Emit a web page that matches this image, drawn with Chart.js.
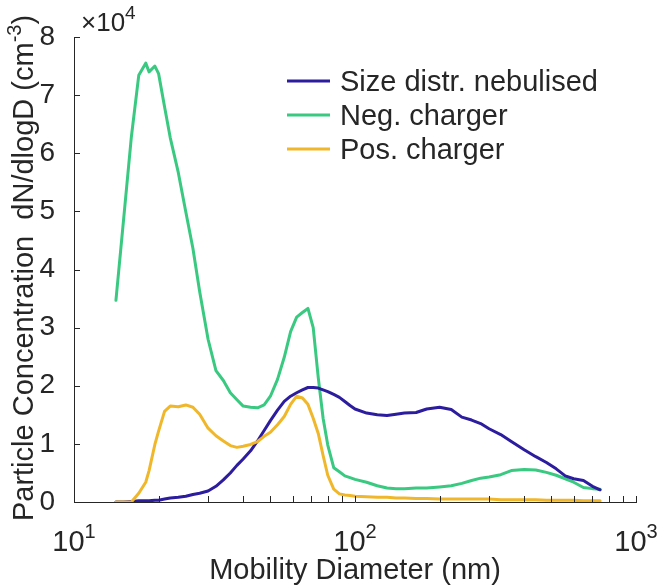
<!DOCTYPE html>
<html>
<head>
<meta charset="utf-8">
<script src="https://cdn.jsdelivr.net/npm/chart.js@4.4.1/dist/chart.umd.min.js"></script>
<style>
    html, body { margin: 0; padding: 0; background: #ffffff; }
    #wrap { width: 657px; height: 588px; position: relative; }
</style>
</head>
<body>
<div id="wrap"><canvas id="graph_canva"></canvas></div>
<script>

// Mobility diameter (nm), same scan bins for all three curves
var diameters = [
    14.1, 15, 16, 17, 18, 18.5, 19.4, 20, 21, 22,
    23.5, 25, 26.5, 28, 30, 32, 34, 36, 38, 40,
    42.5, 45, 47.5, 50, 53, 56, 59, 62, 65, 68,
    71, 74, 77, 80, 84, 88, 92, 96, 100, 110,
    120, 130, 140, 150, 165, 180, 200, 220, 240, 260,
    280, 300, 330, 360, 400, 440, 480, 520, 560, 600,
    650, 700, 745
];

// dN/dlogD, in units of 1e4 cm^-3
var size_nebulised = [
    0.00, 0.00, 0.01, 0.02, 0.02, 0.02, 0.03, 0.03, 0.05, 0.07,
    0.08, 0.10, 0.13, 0.15, 0.19, 0.27, 0.38, 0.50, 0.63, 0.74,
    0.88, 1.05, 1.23, 1.40, 1.58, 1.73, 1.82, 1.88, 1.93, 1.97,
    1.97, 1.96, 1.93, 1.90, 1.85, 1.80, 1.73, 1.66, 1.60, 1.53,
    1.50, 1.49, 1.51, 1.53, 1.54, 1.60, 1.63, 1.59, 1.46, 1.41,
    1.35, 1.26, 1.16, 1.04, 0.90, 0.78, 0.68, 0.57, 0.45, 0.40,
    0.37, 0.27, 0.21
];

var neg_charger = [
    3.47, 4.84, 6.28, 7.34, 7.55, 7.40, 7.50, 7.37, 6.80, 6.27,
    5.67, 4.99, 4.36, 3.62, 2.80, 2.26, 2.09, 1.88, 1.76, 1.65,
    1.63, 1.62, 1.67, 1.82, 2.11, 2.49, 2.93, 3.18, 3.26, 3.33,
    3.00, 2.14, 1.44, 0.98, 0.59, 0.52, 0.45, 0.42, 0.39, 0.34,
    0.28, 0.24, 0.23, 0.23, 0.24, 0.24, 0.26, 0.28, 0.32, 0.37,
    0.41, 0.43, 0.47, 0.54, 0.56, 0.55, 0.51, 0.46, 0.40, 0.34,
    0.25, 0.23, 0.22
];

var pos_charger = [
    0.00, 0.00, 0.00, 0.15, 0.34, 0.54, 0.99, 1.22, 1.56, 1.65,
    1.64, 1.67, 1.63, 1.51, 1.27, 1.14, 1.05, 0.97, 0.94, 0.96,
    0.99, 1.04, 1.13, 1.20, 1.33, 1.47, 1.68, 1.82, 1.79, 1.68,
    1.44, 1.18, 0.80, 0.46, 0.22, 0.14, 0.12, 0.11, 0.10, 0.09,
    0.08, 0.08, 0.07, 0.07, 0.06, 0.06, 0.05, 0.05, 0.05, 0.05,
    0.05, 0.05, 0.04, 0.04, 0.04, 0.04, 0.03, 0.03, 0.03, 0.03,
    0.02, 0.02, 0.02
];

var series_labels = [ 'Size distr. nebulised', 'Neg. charger', 'Pos. charger' ];
var series_colors = [ 'rgb(44, 28, 158)', 'rgb(58, 201, 128)', 'rgb(240, 183, 42)' ];

// Axis ticks
var x_major_ticks = [ 10, 100, 1000 ];
var x_tick_bases = [ '10', '10', '10' ];
var x_tick_exponents = [ '1', '2', '3' ];
var x_minor_ticks = [ 20, 30, 40, 50, 60, 70, 80, 90, 200, 300, 400, 500, 600, 700, 800, 900 ];
var y_ticks = [ 0, 1, 2, 3, 4, 5, 6, 7, 8 ];

var x_title = 'Mobility Diameter (nm)';
var y_title = 'Particle Concentration  dN/dlogD (cm';
var y_title_sup = '-3';

var TEXT_COLOR = '#262626';
var FONT = "'Liberation Sans', Arial, Helvetica, sans-serif";

function to_points( values ){
    var pts = [];
    for( var i = 0; i < diameters.length; i++ ){
        pts.push( { x: diameters[i], y: values[i] } );
    }
    return pts;
}

// MATLAB look: inward ticks, 10^n labels, x10^4 factor, titles and legend
var matlab_axes = {
    id: 'matlab_axes',
    afterDraw: function( chart ){
        var ctx = chart.ctx;
        var xs = chart.scales.x;
        var ys = chart.scales.y;
        var area = chart.chartArea;

        ctx.save();
        ctx.strokeStyle = TEXT_COLOR;
        ctx.fillStyle = TEXT_COLOR;
        ctx.lineWidth = 1;

        // tick marks pointing into the plot
        x_major_ticks.concat( x_minor_ticks ).forEach( function( v ){
            var px = Math.round( xs.getPixelForValue( v ) ) + 0.5;
            ctx.beginPath();
            ctx.moveTo( px, area.bottom );
            ctx.lineTo( px, area.bottom - 6 );
            ctx.stroke();
        });
        y_ticks.forEach( function( v ){
            var py = Math.round( ys.getPixelForValue( v ) ) + 0.5;
            ctx.beginPath();
            ctx.moveTo( area.left, py );
            ctx.lineTo( area.left + 6, py );
            ctx.stroke();
        });

        ctx.textAlign = 'left';
        ctx.textBaseline = 'alphabetic';

        // 10^n tick labels
        x_major_ticks.forEach( function( v, i ){
            var px = xs.getPixelForValue( v );
            ctx.font = '29px ' + FONT;
            var wb = ctx.measureText( x_tick_bases[i] ).width;
            ctx.font = '20px ' + FONT;
            var we = ctx.measureText( x_tick_exponents[i] ).width;
            var x0 = px - ( wb + we ) / 2;
            ctx.font = '29px ' + FONT;
            ctx.fillText( x_tick_bases[i], x0, area.bottom + 49 );
            ctx.font = '20px ' + FONT;
            ctx.fillText( x_tick_exponents[i], x0 + wb, area.bottom + 36 );
        });

        // x10^4 factor above the y axis
        ctx.font = '26px ' + FONT;
        ctx.fillText( '\u00d710', area.left + 7, area.top - 6 );
        var wf = ctx.measureText( '\u00d710' ).width;
        ctx.font = '19px ' + FONT;
        ctx.fillText( '4', area.left + 7 + wf, area.top - 18 );

        // x title
        ctx.font = '29px ' + FONT;
        ctx.textAlign = 'center';
        ctx.fillText( x_title, ( area.left + area.right ) / 2, 579 );

        // y title, rotated
        ctx.save();
        ctx.translate( 33, 268 );
        ctx.rotate( -Math.PI / 2 );
        ctx.textAlign = 'left';
        ctx.font = '29px ' + FONT;
        var wm = ctx.measureText( y_title ).width;
        var wc = ctx.measureText( ')' ).width;
        ctx.font = '20px ' + FONT;
        var ws = ctx.measureText( y_title_sup ).width;
        var start = -( wm + ws + wc ) / 2;
        ctx.font = '29px ' + FONT;
        ctx.fillText( y_title, start, 0 );
        ctx.fillText( ')', start + wm + ws, 0 );
        ctx.font = '20px ' + FONT;
        ctx.fillText( y_title_sup, start + wm, -12 );
        ctx.restore();

        // legend
        ctx.textAlign = 'left';
        ctx.font = '29px ' + FONT;
        chart.data.datasets.forEach( function( ds, i ){
            var ly = 81 + i * 34;
            ctx.strokeStyle = ds.borderColor;
            ctx.lineWidth = 3;
            ctx.beginPath();
            ctx.moveTo( 287, ly );
            ctx.lineTo( 330, ly );
            ctx.stroke();
            ctx.fillStyle = TEXT_COLOR;
            ctx.fillText( ds.label, 340, ly + 10 );
        });

        ctx.restore();
    }
};

function graph_draw(){

    var ctx = document.getElementById('graph_canva').getContext('2d');

    var data = {
        datasets: [
            { label: series_labels[0], data: to_points( size_nebulised ), borderColor: series_colors[0], order: 1 },
            { label: series_labels[1], data: to_points( neg_charger ), borderColor: series_colors[1], order: 2 },
            { label: series_labels[2], data: to_points( pos_charger ), borderColor: series_colors[2], order: 0 }
        ]
    };

    data.datasets.forEach( function( ds ){
        ds.borderWidth = 3;
        ds.pointRadius = 0;
        ds.tension = 0;
        ds.fill = false;
        ds.borderJoinStyle = 'round';
        ds.borderCapStyle = 'round';
    });

    return new Chart( ctx, {
        type: 'line',
        data: data,
        plugins: [ matlab_axes ],
        options: {
            responsive: true,
            maintainAspectRatio: false,
            devicePixelRatio: 1,
            animation: false,
            layout: {
                autoPadding: false,
                padding: { left: 0, top: 37, right: 21, bottom: 0 }
            },
            plugins: {
                legend: { display: false },
                tooltip: { enabled: false },
                title: { display: false }
            },
            scales: {
                x: {
                    type: 'logarithmic',
                    min: 10,
                    max: 1000,
                    grid: { display: false },
                    border: { display: true, color: TEXT_COLOR, width: 1 },
                    ticks: { display: false },
                    afterFit: function( scale ){ scale.height = 86; }
                },
                y: {
                    type: 'linear',
                    min: 0,
                    max: 8,
                    grid: { display: false },
                    border: { display: true, color: TEXT_COLOR, width: 1 },
                    ticks: {
                        stepSize: 1,
                        padding: 11,
                        color: TEXT_COLOR,
                        font: { family: FONT, size: 28 }
                    },
                    afterFit: function( scale ){ scale.width = 74; }
                }
            }
        }
    });
}

graph_draw();

</script>
</body>
</html>
